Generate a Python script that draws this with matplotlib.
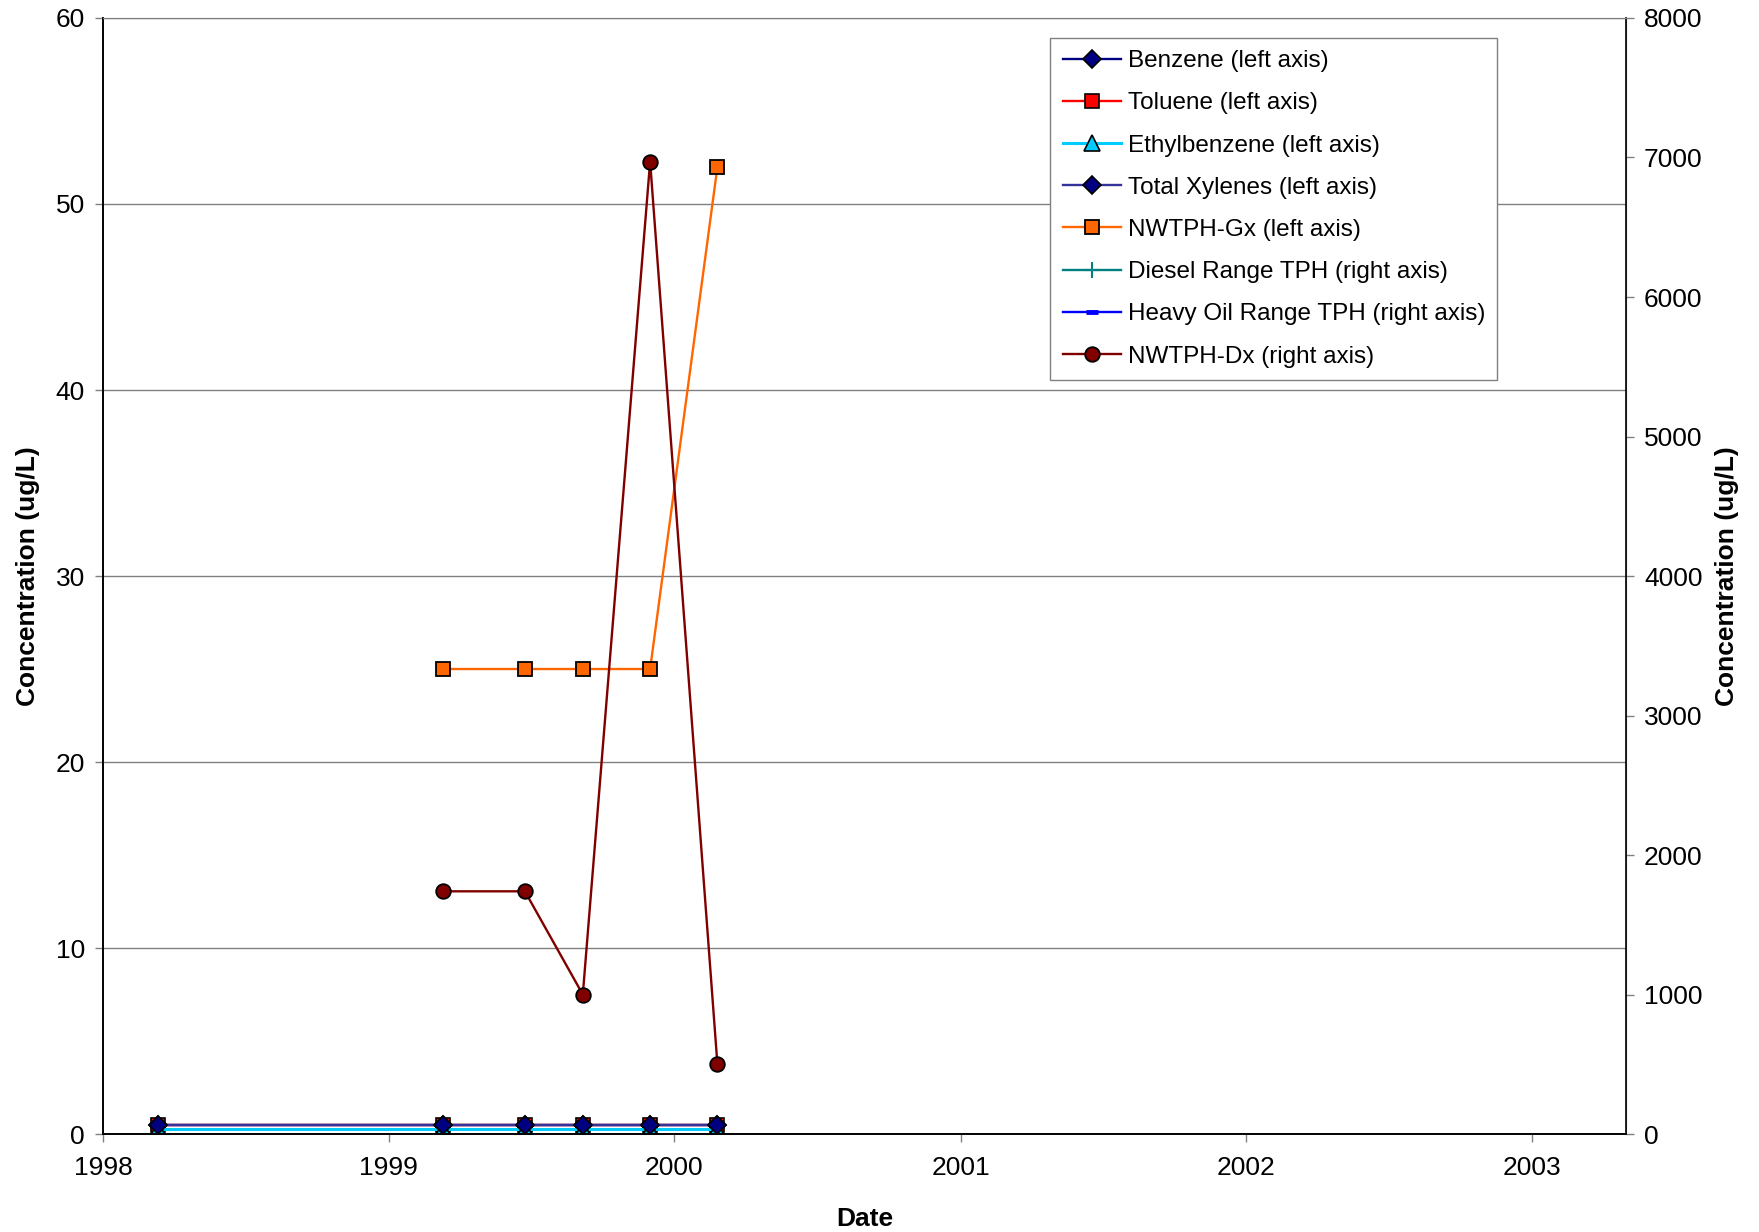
import datetime as dt
import numpy as np
import matplotlib
matplotlib.use("Agg")
import matplotlib.pyplot as plt
import matplotlib.dates as mdates

plt.rcParams['font.family'] = ['Liberation Sans', 'DejaVu Sans']

# sample dates
dates = [dt.date(1998, 3, 12), dt.date(1999, 3, 11), dt.date(1999, 6, 24),
         dt.date(1999, 9, 6), dt.date(1999, 12, 1), dt.date(2000, 2, 25)]

# left axis (ug/L)
benzene = [0.5, 0.5, 0.5, 0.5, 0.5, 0.5]
toluene = [0.5, 0.5, 0.5, 0.5, 0.5, 0.5]
ethylbenzene = [0.25, 0.25, 0.25, 0.25, 0.25, 0.25]
xylenes = [0.5, 0.5, 0.5, 0.5, 0.5, 0.5]
nwtph_gx = [np.nan, 25, 25, 25, 25, 52]

# right axis (ug/L)
diesel = [np.nan] * 6
heavy_oil = [np.nan] * 6
nwtph_dx = [np.nan, 1740, 1740, 1000, 6970, 500]

fig = plt.figure(figsize=(17.59, 12.32), dpi=100)
ax = fig.add_subplot(111)
fig.subplots_adjust(left=0.0586, right=0.9244, top=0.9854, bottom=0.0795)
ax2 = ax.twinx()

lw = 1.7
h1, = ax.plot(dates, benzene, color='#000080', lw=lw, marker='D', ms=9,
              mfc='#000080', mec='black', mew=1.2, label='Benzene (left axis)')
h2, = ax.plot(dates, toluene, color='#FF0000', lw=lw, marker='s', ms=10,
              mfc='#FF0000', mec='black', mew=1.2, label='Toluene (left axis)')
h3, = ax.plot(dates, ethylbenzene, color='#00CCFF', lw=2.2, marker='^', ms=11,
              mfc='#00CCFF', mec='black', mew=1.2, label='Ethylbenzene (left axis)')
h4, = ax.plot(dates, xylenes, color='#333399', lw=lw, marker='D', ms=9,
              mfc='#000080', mec='black', mew=1.2, label='Total Xylenes (left axis)')
h5, = ax.plot(dates, nwtph_gx, color='#FF6600', lw=lw, marker='s', ms=10.5,
              mfc='#FF6600', mec='black', mew=1.3, label='NWTPH-Gx (left axis)')

h6, = ax2.plot(dates, diesel, color='#008080', lw=lw, marker='+', ms=12,
               mec='#008080', mew=1.5, label='Diesel Range TPH (right axis)')
h7, = ax2.plot(dates, heavy_oil, color='#0000FF', lw=lw, marker='_', ms=8,
               mec='#0000FF', mew=3.5, label='Heavy Oil Range TPH (right axis)')
h8, = ax2.plot(dates, nwtph_dx, color='#800000', lw=lw, marker='o', ms=10.5,
               mfc='#800000', mec='black', mew=1.3, label='NWTPH-Dx (right axis)')

ax.set_xlim(dt.date(1998, 1, 1), dt.date(2003, 5, 1))
ax.set_ylim(0, 60)
ax.set_yticks(np.arange(0, 61, 10))
ax2.set_ylim(0, 8000)
ax2.set_yticks(np.arange(0, 8001, 1000))

ax.xaxis.set_major_locator(mdates.YearLocator())
ax.xaxis.set_major_formatter(mdates.DateFormatter('%Y'))

ax.grid(axis='y', color='#808080', lw=1.0)
ax.set_axisbelow(True)

for a in (ax, ax2):
    a.tick_params(direction='out', length=6, width=1.0, color='#808080',
                  labelsize=19, pad=7)
    for s in ('top', 'right'):
        a.spines[s].set_color('#808080')
    a.spines['left'].set_color('black')
    a.spines['bottom'].set_color('black')
    a.spines['left'].set_linewidth(1.2)
    a.spines['bottom'].set_linewidth(1.2)
ax2.spines['right'].set_color('black')
ax2.spines['right'].set_linewidth(1.2)
ax.tick_params(axis='x', pad=10)

ax.set_xlabel('Date', fontsize=19, fontweight='bold', labelpad=19)
ax.set_ylabel('Concentration (ug/L)', fontsize=19, fontweight='bold', labelpad=11)
ax2.set_ylabel('Concentration (ug/L)', fontsize=19, fontweight='bold',
               rotation=90, labelpad=9)

handles = [h1, h2, h3, h4, h5, h6, h7, h8]
leg = ax2.legend(handles=handles, loc='upper left',
                 bbox_to_anchor=(0.622, 0.982), fontsize=17.5,
                 frameon=True, fancybox=False, framealpha=1,
                 edgecolor='#808080', handlelength=2.4, handletextpad=0.28,
                 labelspacing=0.83, borderpad=0.5, borderaxespad=0)
leg.get_frame().set_linewidth(1.0)

fig.savefig('out.png', dpi=100)
